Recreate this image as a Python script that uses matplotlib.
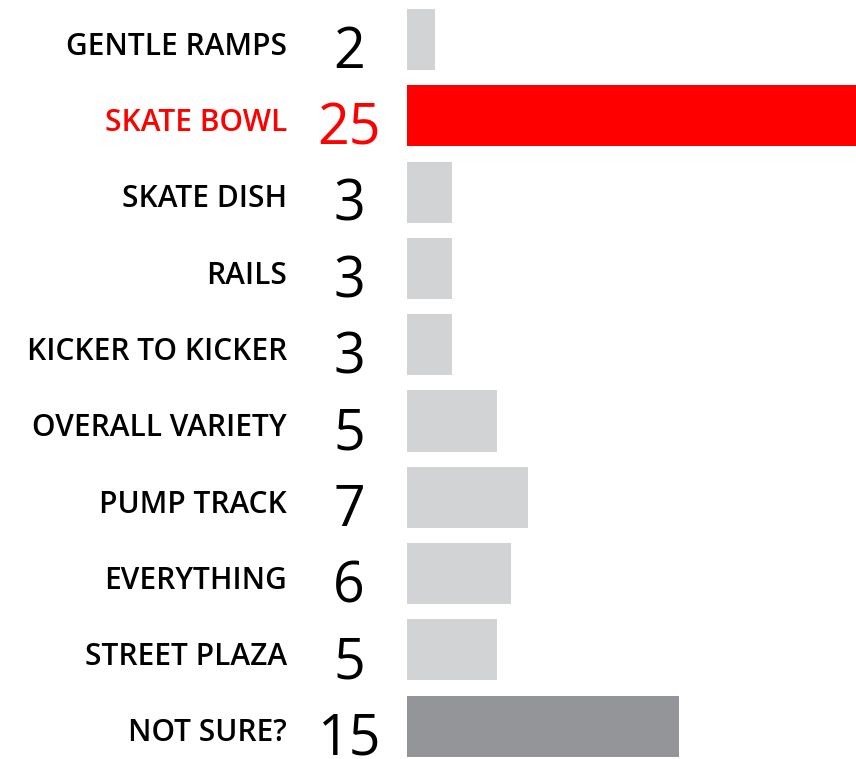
import matplotlib.pyplot as plt
from matplotlib import transforms

categories = ["GENTLE RAMPS", "SKATE BOWL", "SKATE DISH", "RAILS", "KICKER TO KICKER",
              "OVERALL VARIETY", "PUMP TRACK", "EVERYTHING", "STREET PLAZA", "NOT SURE?"]
shown = ["2", "25", "3", "3", "3", "5", "7", "6", "5", "15"]
values = [1.56, 25, 2.5, 2.5, 2.5, 5.0, 6.74, 5.79, 5.0, 15.17]
colors = ["#d1d3d4", "#ff0000"] + ["#d1d3d4"] * 7 + ["#939598"]
text_colors = ["black", "#ff0000"] + ["black"] * 8

fig = plt.figure(figsize=(8.56, 7.59), dpi=100)
ax = fig.add_axes([407 / 856, 0, 449 / 856, 1])

y = list(range(len(categories)))
ax.barh(y, values, height=0.8, color=colors)
ax.set_xlim(0, 25)
ax.set_ylim(9.43, -0.518)
ax.axis("off")

trans = transforms.blended_transform_factory(ax.transAxes, ax.transData)
for i in y:
    ax.text(-0.267, i + 0.2, categories[i], transform=trans, ha="right", va="baseline",
            fontsize=21.5, family="Open Sans", weight=600, color=text_colors[i])
    ax.text(-0.129, i + 0.375, shown[i], transform=trans, ha="center", va="baseline",
            fontsize=40, family="Open Sans", color=text_colors[i])

fig.savefig("out.png", dpi=100)
